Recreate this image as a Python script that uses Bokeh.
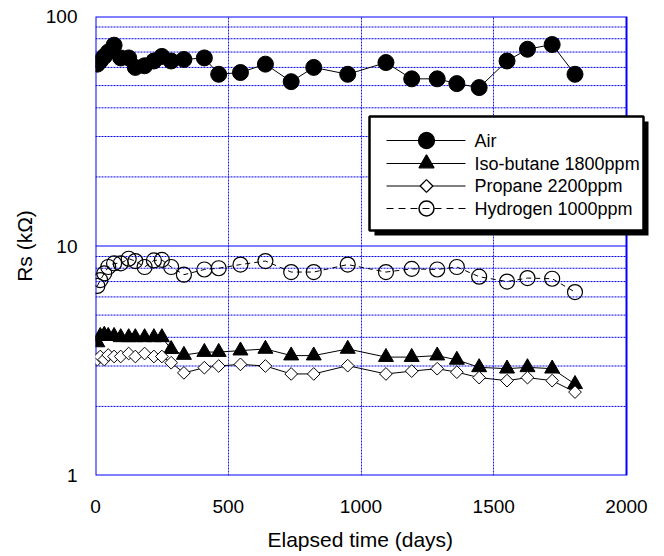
from bokeh.plotting import figure
from bokeh.models import FixedTicker, BasicTickFormatter, Title
from bokeh.core.properties import value
from bokeh.embed import file_html
from bokeh.resources import INLINE
import math

# ---- data ----
days = [7, 18, 33, 48, 70, 95, 125, 150, 185, 220, 250, 285, 333, 410, 464, 546,
        640, 737, 822, 950, 1094, 1191, 1287, 1361, 1445, 1550, 1627, 1720, 1806]
air = [62, 64, 67, 70, 75, 66, 66, 60, 61, 64, 67, 64, 65, 66, 56, 57,
       62, 52, 60, 56, 63, 53.5, 53.5, 51, 49, 64, 72, 75.5, 56]
isobutane = [3.8, 4.05, 4.1, 4.05, 4.05, 4.0, 4.0, 4.0, 4.0, 4.0, 4.0, 3.55, 3.35, 3.45, 3.45, 3.5,
             3.56, 3.33, 3.33, 3.56, 3.28, 3.28, 3.33, 3.19, 2.96, 2.92, 2.96, 2.92, 2.5]
propane = [3.2, 3.3, 3.2, 3.35, 3.3, 3.3, 3.4, 3.3, 3.4, 3.3, 3.3, 3.1, 2.8, 2.95, 3.0, 3.05,
           3.0, 2.77, 2.77, 3.01, 2.77, 2.85, 2.92, 2.82, 2.67, 2.59, 2.67, 2.59, 2.31]
hydrogen = [6.7, 7.1, 7.6, 8.1, 8.4, 8.4, 8.8, 8.6, 8.1, 8.65, 8.7, 8.1, 7.5, 7.9, 8.0, 8.3,
            8.6, 7.7, 7.7, 8.3, 7.7, 7.95, 7.9, 8.1, 7.35, 7.0, 7.25, 7.2, 6.3]

series_names = ["Air", "Iso-butane 1800ppm", "Propane 2200ppm", "Hydrogen 1000ppm"]

x_ticks = [0, 500, 1000, 1500, 2000]
x_grid = [500, 1000, 1500]
y_ticks = [1, 10, 100]
y_minor = [2, 3, 4, 5, 6, 7, 8, 9, 20, 30, 40, 50, 60, 70, 80, 90]
X_MAX = 2000
Y_MIN, Y_MAX = 1, 100

FONT = "Liberation Sans"
BLUE = "#0000ff"

# ---- layout geometry (canvas pixels) ----
FL, FT = 95, 16            # frame left / top
PLOT_W, FH = 531, 459      # width of the 0..2000 plot box, frame height
FW = 555                   # frame is wider so the legend box can overhang the plot box
X_END = X_MAX * FW / PLOT_W


def px2x(px):
    return (px - FL) / PLOT_W * X_MAX


def py2y(py):
    return 10 ** (math.log10(Y_MAX) - (py - FT) / FH * (math.log10(Y_MAX) - math.log10(Y_MIN)))


p = figure(frame_width=FW, frame_height=FH, x_range=(0, X_END), y_range=(Y_MIN, Y_MAX),
           y_axis_type="log", output_backend="svg", toolbar_location=None,
           min_border_left=FL, min_border_top=FT, min_border_right=12, min_border_bottom=20)
p.outline_line_color = None
p.background_fill_color = "white"

# axes
for ax in (p.xaxis[0], p.yaxis[0]):
    ax.axis_line_color = None
    ax.major_tick_line_color = None
    ax.minor_tick_line_color = None
    ax.major_label_text_font = FONT
    ax.major_label_text_font_size = "19px"
    ax.major_label_text_color = "black"
    ax.axis_label_text_font = FONT
    ax.axis_label_text_font_size = "21px"
    ax.axis_label_text_font_style = "normal"
    ax.axis_label_text_color = "black"

p.xaxis.ticker = FixedTicker(ticks=x_ticks)
p.xaxis.major_label_standoff = 18

xtitle = Title(text="Elapsed time (days)", align="left", offset=172, standoff=20,
               text_font=FONT, text_font_size="21px", text_font_style="normal",
               text_color="black")
p.add_layout(xtitle, "below")

p.yaxis.ticker = FixedTicker(ticks=y_ticks, minor_ticks=y_minor)
p.yaxis.formatter = BasicTickFormatter()
p.yaxis.major_label_overrides = {1: "1", 10: "10", 100: "100"}
p.yaxis.axis_label = "Rs (kΩ)"
p.yaxis.major_label_standoff = 12
p.yaxis.axis_label_standoff = 7

# grids: vertical grid from Bokeh, horizontal grid lines stop at the plot box edge
p.xgrid.ticker = FixedTicker(ticks=x_grid)
p.xgrid.grid_line_color = BLUE
p.xgrid.grid_line_alpha = 0.9
p.xgrid.grid_line_dash = "2 1"
p.xgrid.grid_line_width = 1
p.ygrid.grid_line_color = None

p.segment(x0=[0] * len(y_minor), x1=[X_MAX] * len(y_minor), y0=y_minor, y1=y_minor,
          line_color=BLUE, line_width=1, line_dash="2 1")
p.segment(x0=[0], x1=[X_MAX], y0=[10], y1=[10], line_color=BLUE, line_width=1)
p.quad(left=[0], right=[X_MAX], bottom=[Y_MIN], top=[Y_MAX], fill_color=None,
       line_color=BLUE, line_width=2)

# series
styles = [
    dict(marker="circle", size=16, fill_color="black", line_width=1, dash="solid"),
    dict(marker="triangle", size=15, fill_color="black", line_width=1, dash="solid"),
    dict(marker="square", size=9, fill_color="white", line_width=1, dash="solid", angle=math.pi / 4),
    dict(marker="circle", size=15, fill_color=None, line_width=1.2, dash="5 4"),
]
data = [air, isobutane, propane, hydrogen]

for vals, st in zip(data, styles):
    p.line(days, vals, line_color="black", line_width=1, line_dash=st["dash"])
for vals, st in zip(data, styles):
    p.scatter(days, vals, marker=st["marker"], size=st["size"], angle=st.get("angle", 0),
              fill_color=st["fill_color"], line_color="black", line_width=st["line_width"])

# ---- legend (drawn by hand so it can overhang the plot box) ----
LG_L, LG_R, LG_T, LG_B = 369, 643, 116, 230
SH = 5
item_y = [140, 163, 185.5, 208]
p.quad(left=[px2x(LG_L + SH)], right=[px2x(LG_R + SH)], top=[py2y(LG_T + SH)],
       bottom=[py2y(LG_B + SH)], fill_color="black", line_color=None)
p.quad(left=[px2x(LG_L)], right=[px2x(LG_R)], top=[py2y(LG_T)], bottom=[py2y(LG_B)],
       fill_color="white", line_color="black", line_width=2.5)
for yy, st in zip(item_y, styles):
    p.segment(x0=[px2x(386)], x1=[px2x(465)], y0=[py2y(yy)], y1=[py2y(yy)],
              line_color="black", line_width=1.2, line_dash="7 5" if st["dash"] != "solid" else "solid")
    p.scatter([px2x(426)], [py2y(yy)], marker=st["marker"], size=st["size"], angle=st.get("angle", 0),
              fill_color=st["fill_color"], line_color="black", line_width=st["line_width"] + 0.3)
p.text(x=[px2x(474)] * 4, y=[py2y(v) for v in item_y], text=series_names,
       text_font=value(FONT), text_font_size="18px", text_color="black",
       text_align="left", text_baseline="middle")

open("out.html", "w").write(file_html(p, INLINE))
